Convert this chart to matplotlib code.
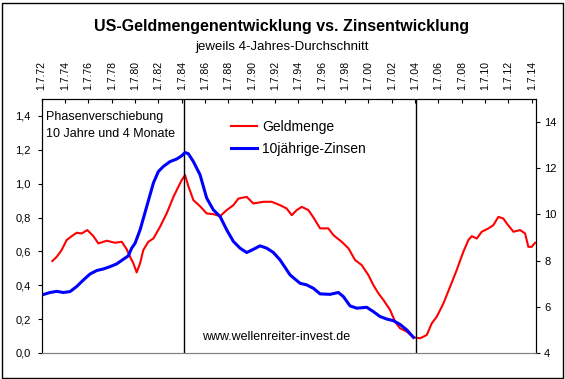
import numpy as np
import matplotlib
matplotlib.use("Agg")
import matplotlib.pyplot as plt
from matplotlib.patches import Rectangle

plt.rcParams['font.family'] = ['Liberation Sans', 'DejaVu Sans']

# ---- data ----
# Geldmenge (left axis), x in decimal years
geld_x = [1973.41, 1973.79, 1974.21, 1974.64, 1975.07, 1975.50, 1975.93, 1976.41,
          1976.93, 1977.36, 1978.07, 1978.79, 1979.36, 1979.79, 1980.07, 1980.36,
          1980.64, 1980.93, 1981.21, 1981.64, 1982.07, 1982.64, 1983.21, 1983.79,
          1984.21, 1984.50, 1984.79, 1985.07, 1985.50, 1986.07, 1986.64, 1987.21,
          1987.79, 1988.36, 1988.93, 1989.36, 1990.07, 1990.64, 1991.50, 1992.21,
          1992.93, 1993.50, 1993.93, 1994.36, 1994.79, 1995.36, 1995.79, 1996.36,
          1997.07, 1997.50, 1998.21, 1998.79, 1999.36, 1999.93, 2000.50, 2000.93,
          2001.36, 2001.79, 2002.36, 2002.79, 2003.21, 2003.79, 2004.36, 2004.93,
          2005.50, 2005.93, 2006.36, 2006.93, 2007.50, 2008.07, 2008.64, 2009.07,
          2009.36, 2009.79, 2010.21, 2010.79, 2011.21, 2011.64, 2012.07, 2012.36,
          2012.93, 2013.50, 2013.93, 2014.21, 2014.50, 2014.79]
geld_y = [0.543, 0.568, 0.608, 0.667, 0.690, 0.710, 0.706, 0.726,
          0.690, 0.647, 0.663, 0.651, 0.657, 0.612, 0.568, 0.529,
          0.476, 0.529, 0.608, 0.657, 0.676, 0.745, 0.824, 0.922,
          0.981, 1.021, 1.050, 0.985, 0.903, 0.867, 0.824, 0.820,
          0.808, 0.844, 0.873, 0.912, 0.922, 0.883, 0.893, 0.893,
          0.873, 0.853, 0.814, 0.844, 0.863, 0.844, 0.800, 0.736,
          0.736, 0.696, 0.657, 0.618, 0.549, 0.519, 0.460, 0.401,
          0.352, 0.313, 0.254, 0.185, 0.146, 0.126, 0.092, 0.087,
          0.106, 0.175, 0.214, 0.293, 0.391, 0.490, 0.598, 0.667,
          0.690, 0.676, 0.716, 0.736, 0.755, 0.804, 0.794, 0.765,
          0.716, 0.726, 0.706, 0.627, 0.627, 0.651]

# 10jaehrige Zinsen (right axis), shifted by the phase offset
zins_x = [1972.50, 1973.21, 1973.79, 1974.36, 1974.93, 1975.50, 1976.07, 1976.64,
          1977.21, 1977.79, 1978.36, 1978.93, 1979.50, 1979.93, 1980.21, 1980.50,
          1980.93, 1981.50, 1982.07, 1982.50, 1982.93, 1983.50, 1984.07, 1984.50,
          1984.79, 1985.07, 1985.50, 1986.07, 1986.64, 1987.21, 1987.79, 1988.36,
          1988.93, 1989.50, 1990.07, 1990.64, 1991.21, 1991.79, 1992.36, 1992.93,
          1993.79, 1994.64, 1995.21, 1995.79, 1996.36, 1997.21, 1997.93, 1998.36,
          1998.93, 1999.50, 2000.36, 2000.93, 2001.50, 2002.07, 2002.64, 2003.21,
          2003.79, 2004.36]
zins_y = [6.51, 6.62, 6.67, 6.62, 6.66, 6.88, 7.16, 7.42,
          7.57, 7.64, 7.74, 7.86, 8.06, 8.21, 8.54, 8.75,
          9.33, 10.34, 11.36, 11.86, 12.08, 12.29, 12.40, 12.54,
          12.68, 12.63, 12.29, 11.72, 10.71, 10.20, 9.91, 9.33,
          8.83, 8.54, 8.35, 8.49, 8.64, 8.54, 8.35, 8.03,
          7.38, 7.02, 6.95, 6.80, 6.56, 6.54, 6.62, 6.44,
          6.04, 5.94, 5.98, 5.79, 5.58, 5.47, 5.40, 5.24,
          5.00, 4.68]

tick_years = np.arange(1972.5, 2015.0, 2.0)
tick_labels = ['1.7.%02d' % (int(y) % 100) for y in tick_years]
marker_years = [1984.72, 2004.58]

left_ticks = [0.0, 0.2, 0.4, 0.6, 0.8, 1.0, 1.2, 1.4]
right_ticks = [4, 6, 8, 10, 12, 14]

# ---- figure ----
W, H = 565, 379
fig = plt.figure(figsize=(W / 100, H / 100), dpi=100)
ax = fig.add_axes([41.7 / W, 1 - 353 / H, (535.7 - 41.7) / W, (353 - 99) / H])
ax2 = ax.twinx()

ax.plot(geld_x, geld_y, color='#ff0000', lw=1.5, label='Geldmenge')
ax2.plot(zins_x, zins_y, color='#0000ff', lw=2.2, label='10jährige-Zinsen')
for xv in marker_years:
    ax.axvline(xv, color='black', lw=1.0)

ax.set_xlim(1972.5, 2014.84)
ax.set_ylim(0, 1.5)
ax2.set_ylim(4, 15)

ax.xaxis.tick_top()
ax.set_xticks(tick_years)
ax.set_xticklabels(tick_labels, rotation=90, fontsize=7.5)
ax.tick_params(axis='x', direction='in', length=3, pad=6.5, width=0.8)
ax.set_yticks(left_ticks)
ax.set_yticklabels([('%.1f' % v).replace('.', ',') for v in left_ticks], fontsize=8)
ax.tick_params(axis='y', direction='out', length=3, pad=5, width=0.8)
ax2.set_yticks(right_ticks)
ax2.set_yticklabels([str(v) for v in right_ticks], fontsize=8)
ax2.tick_params(axis='y', direction='out', length=3, pad=3, width=0.8)

for a in (ax, ax2):
    a.spines['bottom'].set_color('#808080')
    a.spines['top'].set_color('black')
    a.spines['left'].set_color('black')
    a.spines['right'].set_color('black')

h1, l1 = ax.get_legend_handles_labels()
h2, l2 = ax2.get_legend_handles_labels()
ax2.legend(h1 + h2, l1 + l2, loc='upper left', frameon=False, fontsize=10,
           bbox_to_anchor=(230.7 / W, 1 - 120 / H), bbox_transform=fig.transFigure,
           borderpad=0, borderaxespad=0, handlelength=1.9, handletextpad=0.35,
           labelspacing=0.6)

fig.text(282 / W, 1 - 27 / H, 'US-Geldmengenentwicklung vs. Zinsentwicklung',
         ha='center', va='center', fontsize=11.5, fontweight='bold')
fig.text(282 / W, 1 - 47 / H, 'jeweils 4-Jahres-Durchschnitt',
         ha='center', va='center', fontsize=9.5)
fig.text(46.3 / W, 1 - 125.5 / H, 'Phasenverschiebung\n10 Jahre und 4 Monate',
         ha='left', va='center', fontsize=9, linespacing=1.45)
fig.text(201.7 / W, 1 - 336.7 / H, 'www.wellenreiter-invest.de',
         ha='left', va='center', fontsize=9)

# outer frame
fig.patches.append(Rectangle((1.5 / W, 1.5 / H), (W - 4) / W, (H - 4) / H,
                             transform=fig.transFigure, fill=False,
                             edgecolor='black', lw=1.0))

fig.savefig('out.png', dpi=100)
